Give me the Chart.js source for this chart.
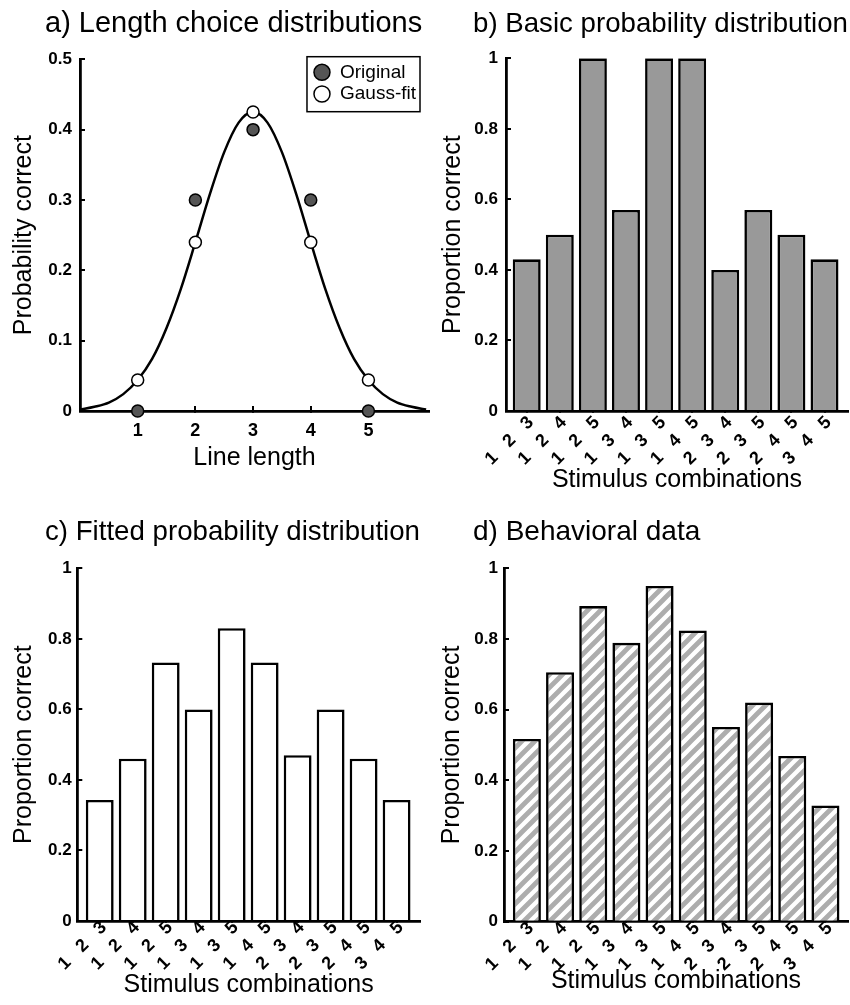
<!DOCTYPE html>
<html>
<head>
<meta charset="utf-8">
<script src="https://cdn.jsdelivr.net/npm/chart.js@4"></script>
<style>
  html, body { margin: 0; padding: 0; background: #fff; overflow: hidden; }
  canvas { position: absolute; }
</style>
</head>
<body>
<canvas id="chartA" width="430" height="490" style="left:0;top:0"></canvas>
<canvas id="chartB" width="420" height="500" style="left:430px;top:0"></canvas>
<canvas id="chartC" width="430" height="497" style="left:0;top:508px"></canvas>
<canvas id="chartD" width="420" height="497" style="left:430px;top:508px"></canvas>
<script>
// a) line length choices
const lineLengths = [1, 2, 3, 4, 5];
const originalProb = [0, 0.3, 0.4, 0.3, 0];
const gaussFitProb = [0.044, 0.24, 0.425, 0.24, 0.044];
// gauss curve
const curveX = [0, 0.25, 0.5, 0.75, 1, 1.25, 1.5, 1.75, 2, 2.25, 2.5, 2.75, 3,
  3.25, 3.5, 3.75, 4, 4.25, 4.5, 4.75, 5, 5.25, 5.5, 5.75, 6];
const curveY = [0.002, 0.006, 0.012, 0.024, 0.044, 0.074, 0.118, 0.174, 0.24, 0.308, 0.368, 0.41, 0.425,
  0.41, 0.368, 0.308, 0.24, 0.174, 0.118, 0.074, 0.044, 0.024, 0.012, 0.006, 0.002];

// b), c), d) stimulus combinations
const combos = ['1   2   3', '1   2   4', '1   2   5', '1   3   4', '1   3   5',
  '1   4   5', '2   3   4', '2   3   5', '2   4   5', '3   4   5'];
const basicProp = [0.43, 0.5, 1, 0.57, 1, 1, 0.4, 0.57, 0.5, 0.43];
const fittedProp = [0.343, 0.46, 0.733, 0.6, 0.83, 0.733, 0.47, 0.6, 0.46, 0.343];
const behavioralProp = [0.517, 0.706, 0.893, 0.789, 0.95, 0.824, 0.551, 0.62, 0.469, 0.329];

const FONT = '"Liberation Sans", Arial, Helvetica, sans-serif';
Chart.defaults.font.family = FONT;
Chart.defaults.color = '#000';

const yTickFont = { size: 17, weight: 'bold' };
const xTickFont = { size: 18, weight: 'bold' };
const axisGrid = { drawOnChartArea: false, tickLength: -5, color: '#000', lineWidth: 2 };
const axisBorder = { color: '#000', width: 2.8 };
// matlab style labels: 1 instead of 1.0
const shortNum = v => String(Math.round(v * 10) / 10);

// legend with a frame, drawn inside the plot area
const boxLegend = {
  id: 'boxLegend',
  afterDraw(chart, args, opts) {
    if (!opts.items) return;
    const ctx = chart.ctx;
    const area = chart.chartArea;
    ctx.save();
    ctx.font = opts.font;
    const textW = Math.max(...opts.items.map(l => ctx.measureText(l).width));
    const w = 33 + textW + 4;
    const h = 55;
    const x0 = area.right - opts.right - w;
    const y0 = area.top + opts.top;
    ctx.fillStyle = '#fff';
    ctx.fillRect(x0, y0, w, h);
    ctx.strokeStyle = '#000';
    ctx.lineWidth = 1.5;
    ctx.strokeRect(x0, y0, w, h);
    opts.items.forEach((label, i) => {
      const ds = chart.data.datasets.find(d => d.label === label);
      const cy = y0 + 15.6 + i * 21.7;
      ctx.beginPath();
      ctx.arc(x0 + 15, cy, 8, 0, Math.PI * 2);
      ctx.fillStyle = ds.pointBackgroundColor;
      ctx.fill();
      ctx.lineWidth = 1.5;
      ctx.strokeStyle = ds.pointBorderColor;
      ctx.stroke();
      ctx.fillStyle = '#000';
      ctx.textBaseline = 'middle';
      ctx.fillText(label, x0 + 33, cy);
    });
    ctx.restore();
  }
};

new Chart(document.getElementById('chartA'), {
  type: 'scatter',
  plugins: [boxLegend],
  data: {
    datasets: [
      {
        label: 'Gauss-fit',
        data: lineLengths.map((x, i) => ({ x: x, y: gaussFitProb[i] })),
        pointRadius: 6, pointBorderWidth: 1.5,
        pointBackgroundColor: '#fff', pointBorderColor: '#000',
        clip: false
      },
      {
        label: 'Original',
        data: lineLengths.map((x, i) => ({ x: x, y: originalProb[i] })),
        pointRadius: 6, pointBorderWidth: 1.5,
        pointBackgroundColor: '#555', pointBorderColor: '#000',
        clip: false
      },
      {
        type: 'line',
        label: 'curve',
        data: curveX.map((x, i) => ({ x: x, y: curveY[i] })),
        borderColor: '#000', borderWidth: 2.5,
        pointRadius: 0, fill: false,
        cubicInterpolationMode: 'monotone',
        clip: false
      }
    ]
  },
  options: {
    responsive: false,
    animation: false,
    events: [],
    layout: { autoPadding: false, padding: { left: 45, right: 1, top: 0, bottom: 0 } },
    plugins: {
      legend: { display: false },
      tooltip: { enabled: false },
      title: {
        display: true, text: 'a) Length choice distributions', align: 'start', color: '#000',
        font: { size: 29, weight: 'normal' }, padding: { top: 6.5, bottom: 18 }
      },
      boxLegend: { items: ['Original', 'Gauss-fit'], font: '19px ' + FONT, right: 9, top: -2.6 }
    },
    scales: {
      x: {
        type: 'linear', min: 0, max: 6.05,
        afterBuildTicks: s => { s.ticks = lineLengths.map(v => ({ value: v })); },
        ticks: { font: xTickFont, padding: 14, autoSkip: false, maxRotation: 0 },
        grid: axisGrid,
        border: axisBorder,
        title: { display: true, text: 'Line length', font: { size: 25 }, padding: { top: 0, bottom: 17 } },
        afterFit: s => { s.height = 79; s.paddingLeft = 0; s.paddingRight = 0; }
      },
      y: {
        min: 0, max: 0.5,
        ticks: { stepSize: 0.1, font: yTickFont, padding: 13, callback: shortNum },
        grid: axisGrid,
        border: axisBorder,
        title: { display: true, text: 'Probability correct', font: { size: 25 }, padding: { top: -36, bottom: 0 } },
        afterFit: s => { s.width = 35; }
      }
    }
  }
});

function makeHatch() {
  const tile = document.createElement('canvas');
  tile.width = 13;
  tile.height = 13;
  const g = tile.getContext('2d');
  g.fillStyle = '#fff';
  g.fillRect(0, 0, 13, 13);
  g.strokeStyle = '#adadad';
  g.lineWidth = 4.8;
  g.beginPath();
  g.moveTo(-3, 16); g.lineTo(16, -3);
  g.moveTo(-10, 10); g.lineTo(10, -10);
  g.moveTo(3, 23); g.lineTo(23, 3);
  g.stroke();
  return g.createPattern(tile, 'repeat');
}

function drawBars(canvasId, cfg) {
  return new Chart(document.getElementById(canvasId), {
    type: 'bar',
    data: {
      datasets: [{
        data: cfg.values.map((v, i) => ({ x: i + 1, y: v })),
        backgroundColor: cfg.fill,
        borderColor: '#000',
        borderWidth: 2.6,
        categoryPercentage: 1,
        barPercentage: 0.845
      }]
    },
    options: {
      responsive: false,
      animation: false,
      events: [],
      layout: { autoPadding: false, padding: { left: cfg.padLeft, right: cfg.padRight, top: 0, bottom: 0 } },
      plugins: {
        legend: { display: false },
        tooltip: { enabled: false },
        title: {
          display: true, text: cfg.title, align: 'start', color: '#000',
          font: { size: 28, weight: 'normal' }, padding: { top: 7, bottom: cfg.titleGap }
        }
      },
      scales: {
        x: {
          type: 'linear', min: cfg.xMin, max: cfg.xMax, offset: false,
          afterBuildTicks: s => { s.ticks = combos.map((c, i) => ({ value: i + 1 })); },
          ticks: {
            callback: v => combos[v - 1],
            autoSkip: false, minRotation: 45, maxRotation: 45,
            font: xTickFont, padding: cfg.xTickPad, labelOffset: 4
          },
          grid: Object.assign({ offset: false }, axisGrid),
          border: axisBorder,
          title: { display: true, text: 'Stimulus combinations', font: { size: 25 }, padding: { top: 0, bottom: cfg.xTitlePad } },
          afterFit: s => { s.height = cfg.xAxisH; s.paddingLeft = 0; s.paddingRight = 0; }
        },
        y: {
          min: 0, max: 1,
          ticks: { stepSize: 0.2, font: yTickFont, padding: cfg.yTickPad, callback: shortNum },
          grid: axisGrid,
          border: axisBorder,
          title: { display: true, text: 'Proportion correct', font: { size: 25 }, padding: { top: cfg.yTitlePad, bottom: 0 } },
          afterFit: s => { s.width = cfg.yAxisW; }
        }
      }
    }
  });
}

drawBars('chartB', {
  title: 'b) Basic probability distribution', values: basicProp, fill: '#999',
  padLeft: 43, padRight: 2, titleGap: 17.7, yAxisW: 33, yTitlePad: -35, yTickPad: 13,
  xAxisH: 89, xTickPad: 6, xTitlePad: 5, xMin: 0.374, xMax: 10.71
});

drawBars('chartC', {
  title: 'c) Fitted probability distribution', values: fittedProp, fill: '#fff',
  padLeft: 45, padRight: 10, titleGap: 19.7, yAxisW: 32.3, yTitlePad: -36, yTickPad: 10.6,
  xAxisH: 84, xTickPad: 1, xTitlePad: 5, xMin: 0.32, xMax: 10.71
});

drawBars('chartD', {
  title: 'd) Behavioral data', values: behavioralProp, fill: makeHatch(),
  padLeft: 43, padRight: 2, titleGap: 19.7, yAxisW: 31, yTitlePad: -35.5, yTickPad: 11,
  xAxisH: 83.3, xTickPad: 1, xTitlePad: 9, xMin: 0.31, xMax: 10.68
});
</script>
</body>
</html>
